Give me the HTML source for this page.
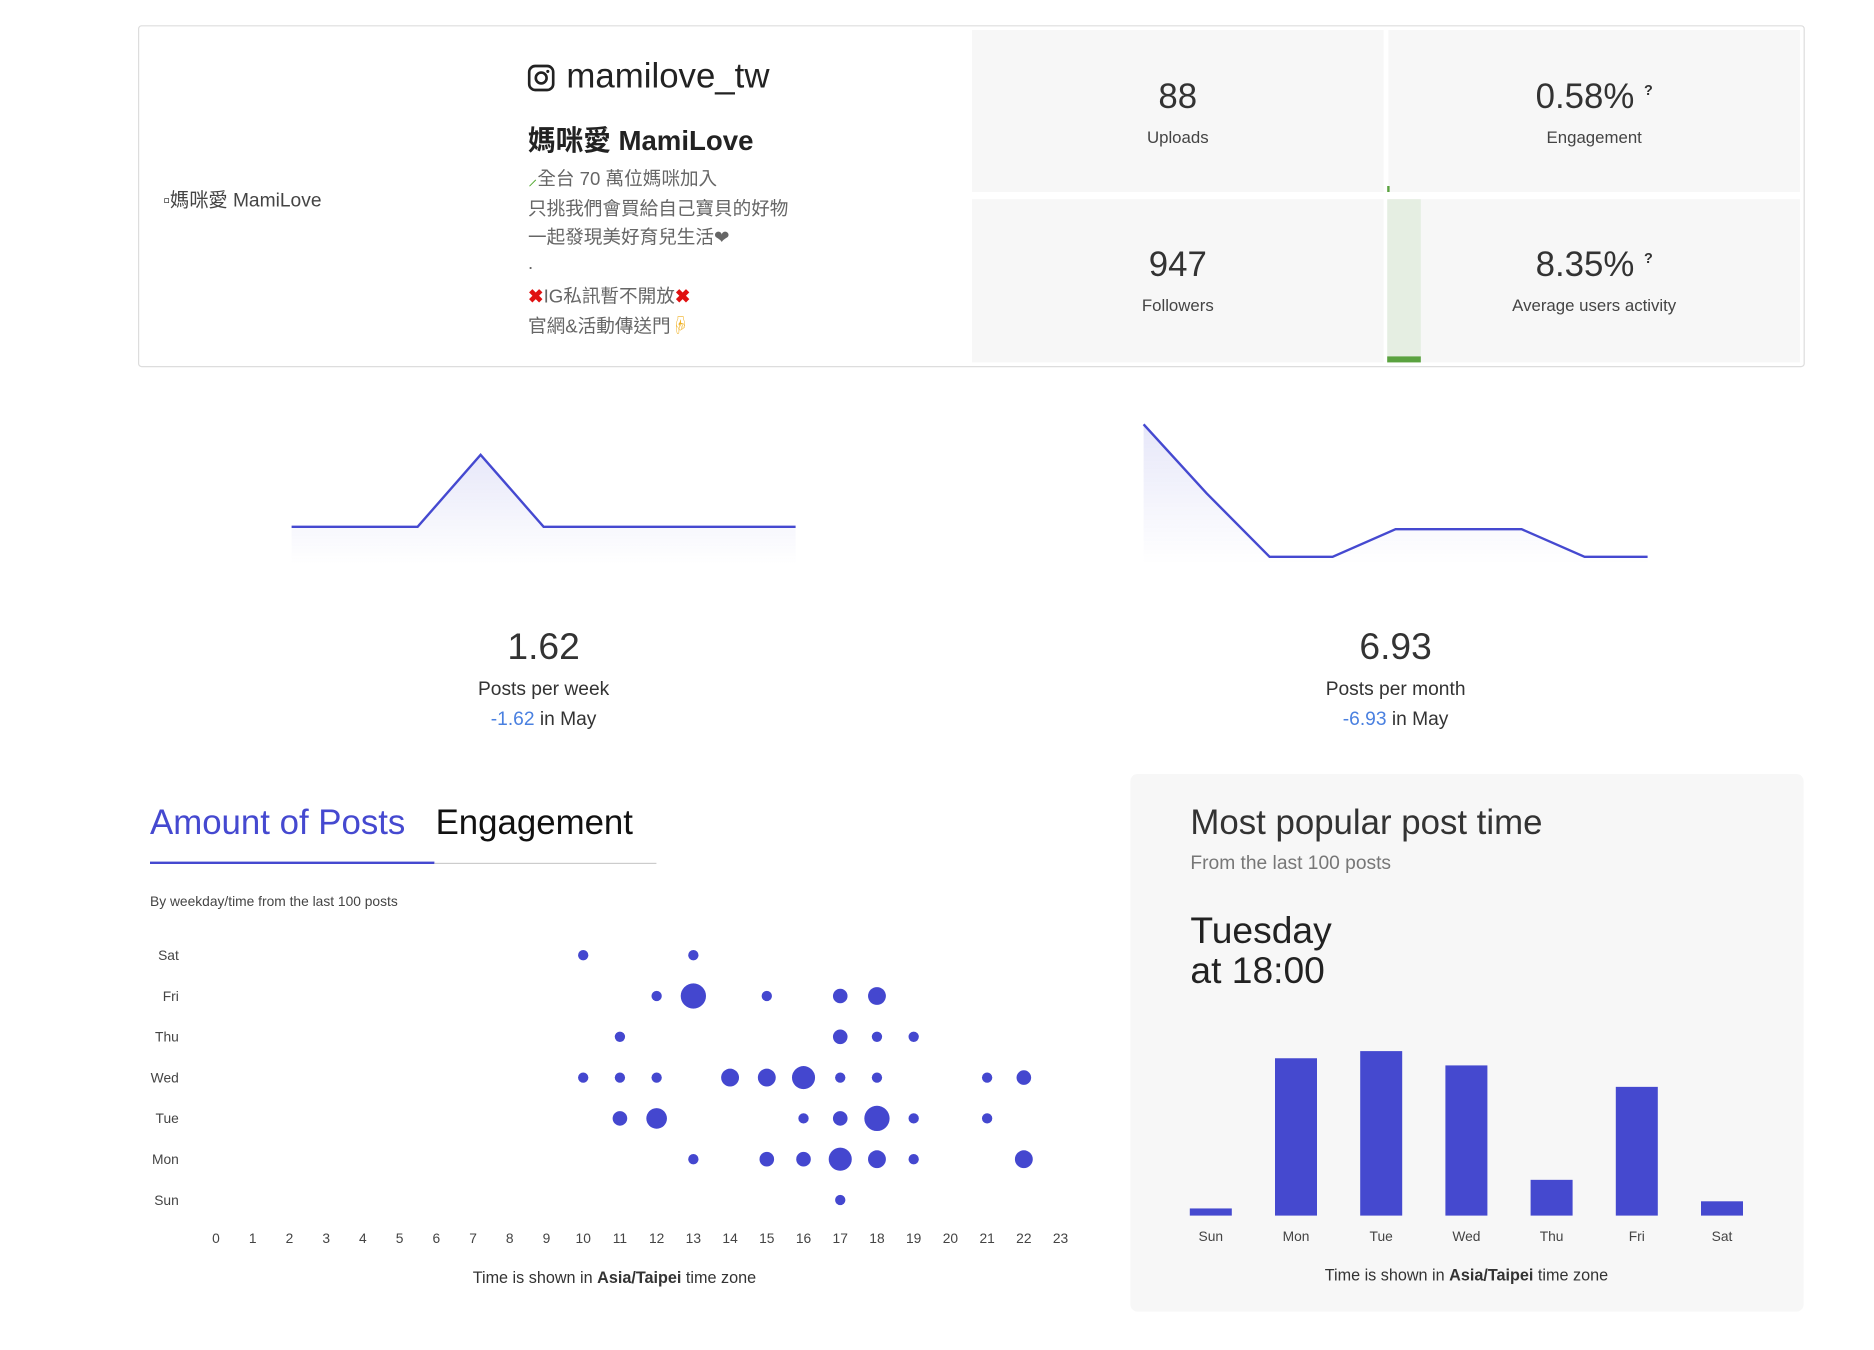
<!DOCTYPE html>
<html><head><meta charset="utf-8">
<style>
html,body{margin:0;padding:0;background:#fff;width:1874px;height:1350px;overflow:hidden}
#wrap{position:absolute;left:0;top:0;width:1562px;height:1125px;transform:scale(1.2);transform-origin:0 0;font-family:"Liberation Sans","Noto Sans CJK TC",sans-serif;color:#333}
.abs{position:absolute}
.cell{position:absolute;background:#f7f7f7;text-align:center}
.num{position:absolute;left:0;right:0;font-size:29px;color:#333}
.lbl{position:absolute;left:0;right:0;font-size:14px;color:#444}
.bio{position:absolute;left:440px;font-size:15.5px;color:#666;white-space:nowrap}
</style></head><body>
<div id="wrap">
<div class="abs" style="left:115px;top:21px;width:1387px;height:283px;border:1px solid #ddd;border-radius:3px;"></div>
<div class="abs" style="left:136px;top:153px;font-size:16px;color:#444">▫媽咪愛 MamiLove</div>
<svg class="abs" style="left:439px;top:53px" width="24" height="24" viewBox="0 0 24 24"><rect x="2" y="2" width="20" height="20" rx="5" fill="none" stroke="#222" stroke-width="2.2"/><circle cx="12" cy="12" r="4.5" fill="none" stroke="#222" stroke-width="2.2"/><circle cx="17.5" cy="6.5" r="1.3" fill="#222"/></svg>
<div class="abs" style="left:472px;top:48px;font-size:29px;color:#222">mamilove_tw</div>
<div class="abs" style="left:440px;top:98px;font-size:23px;font-weight:bold;color:#222">媽咪愛 MamiLove</div>
<div class="bio" style="top:137px"><span style="color:#5a3">⸝</span>全台 70 萬位媽咪加入</div>
<div class="bio" style="top:162px">只挑我們會買給自己寶貝的好物</div>
<div class="bio" style="top:186px">一起發現美好育兒生活❤</div>
<div class="bio" style="top:211px">.</div>
<div class="bio" style="top:235px"><span style="color:#e01010;font-weight:bold">✖</span>IG私訊暫不開放<span style="color:#e01010;font-weight:bold">✖</span></div>
<div class="bio" style="top:260px">官網&amp;活動傳送門<span style="color:#f0b020">☟</span></div>

<div class="cell" style="left:810px;top:25px;width:343px;height:135px"><div class="num" style="top:40px">88</div><div class="lbl" style="top:81px">Uploads</div></div>
<div class="cell" style="left:1157px;top:25px;width:343px;height:135px"><div class="num" style="top:40px">0.58% <sup style="font-size:12px;font-weight:bold">?</sup></div><div class="lbl" style="top:81px">Engagement</div></div>
<div class="cell" style="left:810px;top:166px;width:343px;height:136px"><div class="num" style="top:39px">947</div><div class="lbl" style="top:80px">Followers</div></div>
<div class="cell" style="left:1157px;top:166px;width:343px;height:136px"><div class="num" style="top:39px">8.35% <sup style="font-size:12px;font-weight:bold">?</sup></div><div class="lbl" style="top:80px">Average users activity</div></div>
<div class="abs" style="left:1156px;top:166px;width:28px;height:136px;background:#e5eee2"></div>
<div class="abs" style="left:1156px;top:297px;width:28px;height:5px;background:#5aa23f"></div>
<div class="abs" style="left:1156px;top:155px;width:2px;height:5px;background:#5aa23f"></div>

<svg class="abs" id="spark" style="left:0;top:330px" width="1562" height="160"></svg>

<div class="abs" style="left:303px;width:300px;text-align:center;top:521px;font-size:31px;color:#333">1.62</div>
<div class="abs" style="left:303px;width:300px;text-align:center;top:566px;font-size:16px;color:#333">Posts per week</div>
<div class="abs" style="left:303px;width:300px;text-align:center;top:591px;font-size:16px;color:#333"><span style="color:#4a80e0">-1.62</span> in May</div>
<div class="abs" style="left:1013px;width:300px;text-align:center;top:521px;font-size:31px;color:#333">6.93</div>
<div class="abs" style="left:1013px;width:300px;text-align:center;top:566px;font-size:16px;color:#333">Posts per month</div>
<div class="abs" style="left:1013px;width:300px;text-align:center;top:591px;font-size:16px;color:#333"><span style="color:#4a80e0">-6.93</span> in May</div>

<div class="abs" style="left:125px;top:670px;font-size:29px;color:#4549d0">Amount of Posts</div>
<div class="abs" style="left:363px;top:670px;font-size:29px;color:#111">Engagement</div>
<div class="abs" style="left:125px;top:718px;width:237px;height:2px;background:#4549d0"></div>
<div class="abs" style="left:362px;top:719px;width:185px;height:1px;background:#ccc"></div>
<div class="abs" style="left:125px;top:746px;font-size:11.5px;color:#444">By weekday/time from the last 100 posts</div>
<svg class="abs" id="bubble" style="left:100px;top:770px" width="820" height="320"></svg>

<div class="abs" style="left:942px;top:645px;width:561px;height:448px;background:#f7f7f7;border-radius:6px"></div>
<div class="abs" style="left:992px;top:670px;font-size:29px;color:#333">Most popular post time</div>
<div class="abs" style="left:992px;top:711px;font-size:16px;color:#777">From the last 100 posts</div>
<div class="abs" style="left:992px;top:759px;font-size:31px;line-height:33px;color:#222">Tuesday<br>at 18:00</div>
<svg class="abs" id="bars" style="left:942px;top:850px" width="561" height="230"></svg>
</div>
<script>
const NS="http://www.w3.org/2000/svg";
function mk(p,t,a){const e=document.createElementNS(NS,t);for(const k in a)e.setAttribute(k,a[k]);p.appendChild(e);return e;}
// sparkline data
const weekValues=[1,1,1,2,1,1,1,1,1];
const monthValues=[10.8,8.3,6,6,7,7,7,6,6];
(function(){
 const s=document.getElementById('spark');
 const defs=mk(s,'defs',{});
 const g=mk(defs,'linearGradient',{id:'gf',x1:0,y1:0,x2:0,y2:1});
 mk(g,'stop',{offset:'0','stop-color':'#4549d0','stop-opacity':'0.13'});
 mk(g,'stop',{offset:'1','stop-color':'#4549d0','stop-opacity':'0'});
 function draw(vals,x0,step,yf,name){
  const pts=vals.map((v,i)=>[x0+i*step,yf(v)]);
  const d=pts.map((p,i)=>(i?'L':'M')+p[0]+','+p[1]).join(' ');
  const a=mk(s,'path',{d:d+' L'+pts[pts.length-1][0]+',140 L'+pts[0][0]+',140 Z',fill:'url(#gf)'});
  
  const l=mk(s,'path',{d:d,fill:'none',stroke:'#4549d0','stroke-width':2});
  
 }
 draw(weekValues,243,52.5,v=>109-(v-1)*60,'weekly-sparkline');
 draw(monthValues,953,52.5,v=>134-(v-6)*23,'monthly-sparkline');
})();
// bubble data
const days=['Sun','Mon','Tue','Wed','Thu','Fri','Sat'];
const hours=[...Array(24).keys()];
const bubbleDay=[6,6, 5,5,5,5,5, 4,4,4,4, 3,3,3,3,3,3,3,3,3,3, 2,2,2,2,2,2,2, 1,1,1,1,1,1,1, 0];
const bubbleHour=[10,13, 12,13,15,17,18, 11,17,18,19, 10,11,12,14,15,16,17,18,21,22, 11,12,16,17,18,19,21, 13,15,16,17,18,19,22, 17];
const bubbleCount=[1,1, 1,6,1,2,3, 1,2,1,1, 1,1,1,3,3,5,1,1,1,2, 2,4,1,2,6,1,1, 1,2,2,5,3,1,3, 1];
(function(){
 const s=document.getElementById('bubble');
 const X=h=>80+h*30.6, Y=d=>230-d*34;
 days.forEach((d,i)=>{const t=mk(s,'text',{x:49,y:Y(i)+4,'text-anchor':'end','font-size':11.5,fill:'#444','font-family':'Liberation Sans'});t.textContent=d;
  });
 hours.forEach(h=>{const t=mk(s,'text',{x:X(h),y:266,'text-anchor':'middle','font-size':11.5,fill:'#444','font-family':'Liberation Sans'});t.textContent=h;
  });
 bubbleCount.forEach((c,i)=>{const e=mk(s,'circle',{cx:X(bubbleHour[i]),cy:Y(bubbleDay[i]),r:4.3*Math.sqrt(c),fill:'#4447cf'});
  });
 const t=mk(s,'text',{x:412,y:299,'text-anchor':'middle','font-size':13.5,fill:'#333','font-family':'Liberation Sans'});
 t.innerHTML='Time is shown in <tspan font-weight="bold">Asia/Taipei</tspan> time zone';
 
})();
// bar data
const barDays=['Sun','Mon','Tue','Wed','Thu','Fri','Sat'];
const barValues=[1,22,23,21,5,18,2];
(function(){
 const s=document.getElementById('bars');
 const base=163, k=5.96, X=i=>67+i*71;
 barValues.forEach((v,i)=>{const h=v*k;const r=mk(s,'rect',{x:X(i)-17.5,y:base-h,width:35,height:h,fill:'#4549cf'});
  
  const t=mk(s,'text',{x:X(i),y:184,'text-anchor':'middle','font-size':11.5,fill:'#444','font-family':'Liberation Sans'});t.textContent=barDays[i];
  });
 const t=mk(s,'text',{x:280,y:217,'text-anchor':'middle','font-size':13.5,fill:'#333','font-family':'Liberation Sans'});
 t.innerHTML='Time is shown in <tspan font-weight="bold">Asia/Taipei</tspan> time zone';
 
})();
</script>
</body></html>
